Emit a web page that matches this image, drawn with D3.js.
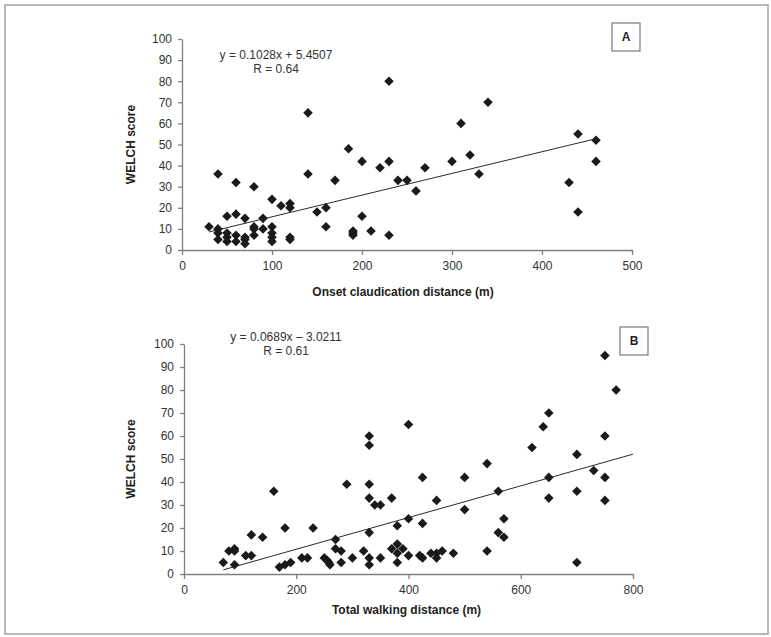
<!DOCTYPE html>
<html>
<head>
<meta charset="utf-8">
<script src="https://cdn.jsdelivr.net/npm/d3@7/dist/d3.min.js"></script>
<style>
  html, body { margin: 0; padding: 0; background: #fff; }
  svg { display: block; }
  .f { font-family: "Liberation Sans Narrow", "Arial Narrow", "Liberation Sans", Arial, sans-serif; }
</style>
</head>
<body>
<svg id="chart" width="771" height="637"></svg>
<script>
// ---------- Data ----------
const yTicks = [0, 10, 20, 30, 40, 50, 60, 70, 80, 90, 100];

// Panel A: Onset claudication distance (m) vs WELCH score
const aTicksX = [0, 100, 200, 300, 400, 500];
const aX = [30, 40, 40, 40, 40, 50, 50, 50, 50, 60, 60, 60, 60, 70, 70, 70, 70,
  80, 80, 80, 80, 90, 90, 100, 100, 100, 100, 100, 110, 120, 120, 120, 120,
  140, 140, 150, 160, 160, 170, 185, 190, 190, 190, 200, 200, 210, 220,
  230, 230, 230, 240, 250, 260, 270, 300, 310, 320, 330, 340, 430, 440, 440, 460, 460];
const aY = [11, 36, 10, 8, 5, 16, 8, 6, 4, 32, 17, 7, 4, 15, 6, 5, 3,
  30, 11, 10, 7, 15, 10, 24, 11, 8, 6, 4, 21, 22, 20, 6, 5,
  65, 36, 18, 20, 11, 33, 48, 9, 8, 7, 42, 16, 9, 39,
  80, 42, 7, 33, 33, 28, 39, 42, 60, 45, 36, 70, 32, 55, 18, 52, 42];
const aFit = { slope: 0.1028, intercept: 5.4507, x0: 30, x1: 460 };
const aEq = ["y = 0.1028x + 5.4507", "R = 0.64"];

// Panel B: Total walking distance (m) vs WELCH score
const bTicksX = [0, 200, 400, 600, 800];
const bX = [70, 80, 90, 90, 90, 110, 120, 120, 140, 160, 170, 180, 180, 190, 210, 220, 230,
  250, 255, 258, 260, 270, 270, 280, 280, 290, 300, 320,
  330, 330, 330, 330, 330, 330, 330, 340, 350, 350, 370, 370,
  380, 380, 380, 380, 390, 400, 400, 400, 420, 425, 425, 425, 440,
  450, 450, 450, 460, 480, 500, 500, 540, 540, 560, 560, 570, 570,
  620, 640, 650, 650, 650, 700, 700, 700, 730, 750, 750, 750, 750, 770];
const bY = [5, 10, 11, 10, 4, 8, 17, 8, 16, 36, 3, 20, 4, 5, 7, 7, 20,
  7, 6, 5, 4, 15, 11, 10, 5, 39, 7, 10,
  60, 56, 39, 33, 18, 7, 4, 30, 30, 7, 33, 11,
  21, 13, 9, 5, 11, 65, 24, 8, 8, 42, 22, 7, 9,
  32, 9, 7, 10, 9, 42, 28, 48, 10, 36, 18, 24, 16,
  55, 64, 70, 42, 33, 52, 36, 5, 45, 95, 60, 42, 32, 80];
const bFit = { slope: 0.0689, intercept: -3.0211, x0: 70, x1: 800 };
const bEq = ["y = 0.0689x \u2013 3.0211", "R = 0.61"];

// ---------- Drawing ----------
const svg = d3.select("#chart");

// outer frame
svg.append("rect")
  .attr("x", 5).attr("y", 5).attr("width", 763).attr("height", 629)
  .attr("fill", "none").attr("stroke", "#a0a0a0").attr("stroke-width", 1.5);

function panel(cfg) {
  const x = d3.scaleLinear().domain(cfg.xDomain).range(cfg.xRange);
  const y = d3.scaleLinear().domain([0, 100]).range(cfg.yRange);
  const g = svg.append("g").attr("class", "f");

  const xAxis = g.append("g")
    .attr("transform", `translate(0,${cfg.yRange[0]})`)
    .call(d3.axisBottom(x).tickValues(cfg.xTicks).tickSize(5).tickSizeOuter(0).tickFormat(d3.format("d")));
  const yAxis = g.append("g")
    .attr("transform", `translate(${cfg.xRange[0]},0)`)
    .call(d3.axisLeft(y).tickValues(yTicks).tickSize(4).tickSizeOuter(0).tickFormat(d3.format("d")));

  [xAxis, yAxis].forEach(a => {
    a.select(".domain").attr("stroke", "#808080").attr("stroke-width", 1.3);
    a.selectAll(".tick line").attr("stroke", "#808080").attr("stroke-width", 1.3);
    a.selectAll(".tick text")
      .attr("fill", "#333").style("font-size", "12px")
      .style("font-family", '"Liberation Sans Narrow", "Arial Narrow", "Liberation Sans", Arial, sans-serif');
  });
  xAxis.selectAll(".tick text").attr("dy", "0.71em").attr("y", 11);
  yAxis.selectAll(".tick text").attr("x", -10);

  // trend line
  g.append("line")
    .attr("x1", x(cfg.fit.x0)).attr("y1", y(cfg.fit.slope * cfg.fit.x0 + cfg.fit.intercept))
    .attr("x2", x(cfg.fit.x1)).attr("y2", y(cfg.fit.slope * cfg.fit.x1 + cfg.fit.intercept))
    .attr("stroke", "#2a2a2a").attr("stroke-width", 1);

  // points (diamonds)
  const sym = d3.symbol().type(d3.symbolSquare).size(46);
  g.selectAll("path.pt")
    .data(cfg.xs.map((v, i) => [v, cfg.ys[i]]))
    .join("path")
    .attr("class", "pt")
    .attr("d", sym)
    .attr("transform", d => `translate(${x(d[0])},${y(d[1])}) rotate(45)`)
    .attr("fill", "#1a1a1a");

  // equation text
  g.selectAll("text.eq")
    .data(cfg.eq)
    .join("text")
    .attr("class", "eq")
    .attr("x", cfg.eqPos[0]).attr("y", (d, i) => cfg.eqPos[1] + i * 14)
    .attr("text-anchor", "middle").attr("dominant-baseline", "middle")
    .attr("fill", "#333").style("font-size", "12px")
    .text(d => d);

  // axis titles
  g.append("text")
    .attr("x", (cfg.xRange[0] + cfg.xRange[1]) / 2 + cfg.xTitleDx).attr("y", cfg.xTitleY)
    .attr("text-anchor", "middle").attr("dominant-baseline", "middle")
    .attr("fill", "#222").style("font-size", "12px").style("font-weight", "bold")
    .text(cfg.xTitle);
  g.append("text")
    .attr("transform", `translate(135,${(cfg.yRange[0] + cfg.yRange[1]) / 2}) rotate(-90)`)
    .attr("text-anchor", "middle")
    .attr("fill", "#222").style("font-size", "12px").style("font-weight", "bold")
    .text("WELCH score");

  // panel label box
  g.append("rect")
    .attr("x", cfg.box[0]).attr("y", cfg.box[1]).attr("width", 28).attr("height", 28)
    .attr("fill", "#fff").attr("stroke", "#7a7a7a").attr("stroke-width", 1.2);
  g.append("text")
    .attr("x", cfg.box[0] + 14).attr("y", cfg.box[1] + 14.5)
    .attr("text-anchor", "middle").attr("dominant-baseline", "middle")
    .attr("fill", "#222").style("font-size", "12px").style("font-weight", "bold")
    .text(cfg.label);
}

panel({
  xDomain: [0, 500], xRange: [182, 632], yRange: [250, 39],
  xTicks: aTicksX, xs: aX, ys: aY, fit: aFit, eq: aEq, eqPos: [276, 56],
  xTitle: "Onset claudication distance (m)", xTitleY: 293, xTitleDx: -4,
  box: [612, 23], label: "A"
});

panel({
  xDomain: [0, 800], xRange: [184, 633], yRange: [574, 344],
  xTicks: bTicksX, xs: bX, ys: bY, fit: bFit, eq: bEq, eqPos: [286, 338],
  xTitle: "Total walking distance (m)", xTitleY: 611, xTitleDx: -2,
  box: [620, 327], label: "B"
});
</script>
</body>
</html>
